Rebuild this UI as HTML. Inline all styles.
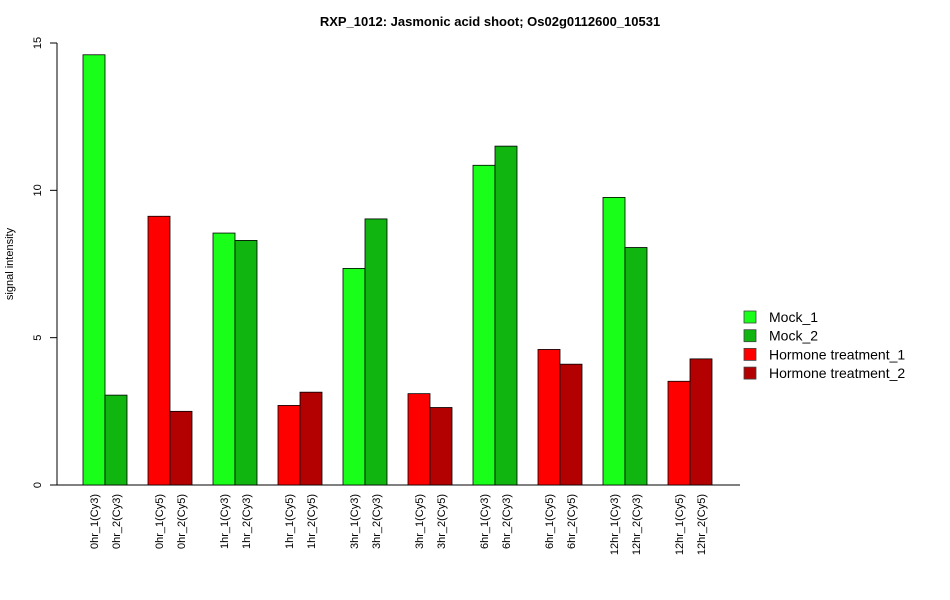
<!DOCTYPE html>
<html><head><meta charset="utf-8"><style>
body{margin:0;background:#fff}
svg{display:block;font-family:"Liberation Sans",Arial,sans-serif}
</style></head><body>
<svg id="chart" width="950" height="600">
<text x="490" y="26" text-anchor="middle" font-weight="bold" font-size="13">RXP_1012: Jasmonic acid shoot; Os02g0112600_10531</text>
<text transform="translate(13,264) rotate(-90)" text-anchor="middle" font-size="11">signal intensity</text>
<g id="yaxis"></g>
<g id="bars"></g>
<g id="xlabels"></g>
<g id="legend"></g>
</svg>
<script>
const categories=["0hr_1(Cy3)","0hr_2(Cy3)","0hr_1(Cy5)","0hr_2(Cy5)","1hr_1(Cy3)","1hr_2(Cy3)","1hr_1(Cy5)","1hr_2(Cy5)","3hr_1(Cy3)","3hr_2(Cy3)","3hr_1(Cy5)","3hr_2(Cy5)","6hr_1(Cy3)","6hr_2(Cy3)","6hr_1(Cy5)","6hr_2(Cy5)","12hr_1(Cy3)","12hr_2(Cy3)","12hr_1(Cy5)","12hr_2(Cy5)"];
const values=[14.6,3.05,9.12,2.5,8.55,8.3,2.7,3.15,7.35,9.03,3.1,2.63,10.85,11.5,4.6,4.1,9.76,8.06,3.52,4.28];
const seriesIndex=[0,1,2,3,0,1,2,3,0,1,2,3,0,1,2,3,0,1,2,3];
const seriesNames=["Mock_1","Mock_2","Hormone treatment_1","Hormone treatment_2"];
const seriesColors=["#1AFF1A","#10B510","#FF0000","#B30000"];
const yTicks=[0,5,10,15];
const NS="http://www.w3.org/2000/svg";
const y0=485,pxPerUnit=(485-43)/15;
function yScale(v){return y0-v*pxPerUnit;}
function xScale(i){return 83+Math.floor(i/2)*65+(i%2)*22;}
function mk(tag,attrs,parent){const e=document.createElementNS(NS,tag);for(const k in attrs)e.setAttribute(k,attrs[k]);parent.appendChild(e);return e;}
const yaxis=document.getElementById('yaxis');
mk('line',{x1:57,x2:57,y1:yScale(0),y2:yScale(15),stroke:'#000'},yaxis);
mk('line',{x1:50,x2:740,y1:y0,y2:y0,stroke:'#000'},yaxis);
yTicks.forEach(t=>{
 const l=mk('line',{x1:50,x2:57,y1:yScale(t),y2:yScale(t),stroke:'#000'},yaxis);
 
 
 const tx=mk('text',{transform:`translate(41,${yScale(t)}) rotate(-90)`,'text-anchor':'middle','font-size':11},yaxis);
 tx.textContent=t;
 
 
});
const bars=document.getElementById('bars'),xl=document.getElementById('xlabels');
values.forEach((v,i)=>{
 const x=xScale(i);
 const r=mk('rect',{x:x,y:yScale(v),width:22,height:y0-yScale(v),fill:seriesColors[seriesIndex[i]],stroke:'#000','stroke-width':0.8},bars);
 
 
 const t=mk('text',{transform:`translate(${x+15},494) rotate(-90)`,'text-anchor':'end','font-size':11},xl);
 t.textContent=categories[i];
 
 
});
const lg=document.getElementById('legend');
seriesNames.forEach((n,i)=>{
 const cy=317+i*18.7;
 const r=mk('rect',{x:744,y:cy-6,width:12,height:12,fill:seriesColors[i],stroke:'#444','stroke-width':0.8},lg);
 
 
 const t=mk('text',{x:769,y:cy+5,'font-size':14},lg);
 t.textContent=n;
 
 
});
</script>
</body></html>
